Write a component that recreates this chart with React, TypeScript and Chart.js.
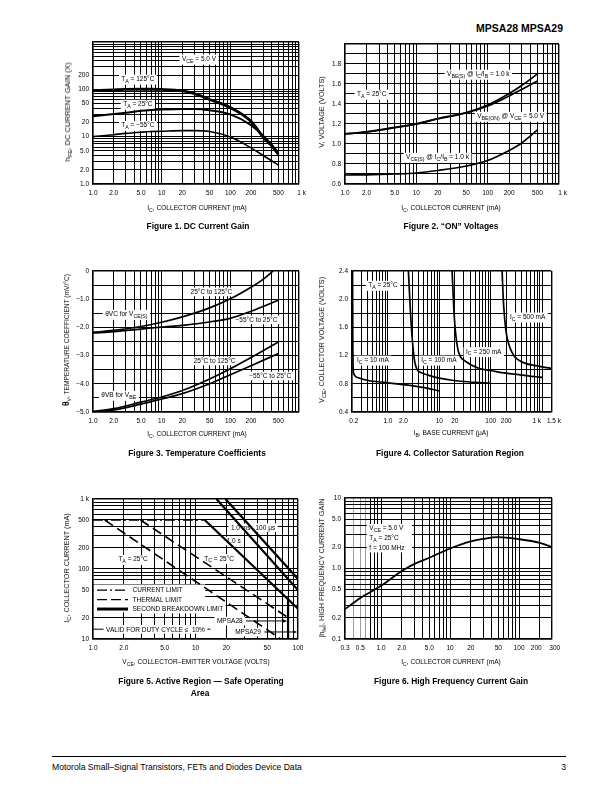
import React, { useEffect, useRef } from 'react';
import { Chart, registerables } from 'chart.js';

Chart.register(...registerables);

const FONT = '"Liberation Sans", Arial, Helvetica, sans-serif';
Chart.defaults.font.family = FONT;

// ---------------- Figure 1: DC Current Gain ----------------
const fig1Current = [1, 2, 3, 5, 7, 10, 20, 30, 50, 100, 200, 300, 400, 500];
const fig1Gain125 = [94, 97, 99, 100, 100, 99, 92, 81, 61, 41, 21, 9.8, 6.4, 4.2];
const fig1Gain25 = [27, 30, 32, 35, 36.5, 37.5, 38.5, 38.5, 36, 29.5, 17.5, 10.5, 6.8, 4.6];
const fig1GainM55 = [10, 11, 11.7, 12.4, 12.8, 13, 13.4, 13.4, 12.8, 9.8, 5.8, 4.0, 3.1, 2.5];
const fig1XTicks = [1, 2, 5, 10, 20, 50, 100, 200, 500, 1000];
const fig1XLabels = ['1.0', '2.0', '5.0', '10', '20', '50', '100', '200', '500', '   1 k'];
const fig1YTicks = [1, 2, 5, 10, 20, 50, 100, 200];
const fig1YLabels = ['1.0', '2.0', '5.0', '10', '20', '50', '100', '200'];

// ---------------- Figure 2: "ON" Voltages ----------------
const fig2Current = [1, 2, 5, 10, 20, 50, 100, 200, 300, 500];
const fig2VbeSat = [1.1, 1.12, 1.165, 1.2, 1.255, 1.315, 1.39, 1.505, 1.585, 1.7];
const fig2VbeOn = [1.1, 1.12, 1.163, 1.2, 1.25, 1.31, 1.38, 1.48, 1.545, 1.63];
const fig2VceSat = [0.69, 0.692, 0.7, 0.71, 0.735, 0.78, 0.835, 0.935, 1.01, 1.14];
const fig2XLabels = ['1.0', '2.0', '5.0', '10', '20', '50', '100', '200', '500', '    1 k'];
const fig2YTicks = [0.6, 0.8, 1.0, 1.2, 1.4, 1.6, 1.8];
const fig2YLabels = ['0.6', '0.8', '1.0', '1.2', '1.4', '1.6', '1.8'];

// ---------------- Figure 3: Temperature Coefficients ----------------
const fig3CurrentVc125 = [1, 2, 5, 10, 20, 50, 100, 200, 300, 420];
const fig3Vc125 = [-2.18, -2.11, -1.97, -1.82, -1.63, -1.31, -0.99, -0.58, -0.3, 0];
const fig3Current = [1, 2, 5, 10, 20, 50, 100, 200, 500];
const fig3Vc55 = [-2.2, -2.15, -2.06, -1.99, -1.93, -1.81, -1.68, -1.43, -1.04];
const fig3Vb125 = [-4.98, -4.88, -4.65, -4.47, -4.24, -3.83, -3.47, -3.07, -2.52];
const fig3Vb55 = [-5.0, -4.93, -4.72, -4.54, -4.35, -4.0, -3.68, -3.36, -2.93];
const fig3XTicks = [1, 2, 5, 10, 20, 50, 100, 200, 500];
const fig3XLabels = ['1.0', '2.0', '5.0', '10', '20', '50', '100', '200', '500'];
const fig3YTicks = [-5, -4, -3, -2, -1, 0];
const fig3YLabels = ['\u22125.0', '\u22124.0', '\u22123.0', '\u22122.0', '\u22121.0', '0'];

// ---------------- Figure 4: Collector Saturation Region ----------------
const fig4Ib10 = [0.205, 0.207, 0.21, 0.215, 0.265, 0.39, 0.94, 2.5, 5, 10];
const fig4Vce10 = [2.4, 1.5, 1.05, 0.95, 0.886, 0.85, 0.816, 0.78, 0.745, 0.7];
const fig4Ib100 = [2.5, 2.75, 3.0, 3.3, 3.7, 4.5, 6.25, 10, 17.7, 40, 100];
const fig4Vce100 = [2.4, 1.8, 1.4, 1.12, 1.0, 0.955, 0.92, 0.88, 0.85, 0.825, 0.81];
const fig4Ib250 = [17.7, 19, 20.5, 22.5, 25, 32, 58, 105, 200, 350, 740, 1000];
const fig4Vce250 = [2.4, 1.9, 1.55, 1.32, 1.2, 1.12, 1.02, 0.985, 0.95, 0.93, 0.9, 0.89];
const fig4Ib500 = [166, 175, 185, 200, 224, 260, 302, 380, 472, 700, 1000, 1500];
const fig4Vce500 = [2.4, 2.0, 1.75, 1.52, 1.36, 1.24, 1.17, 1.12, 1.09, 1.06, 1.04, 1.02];
const fig4XTicks = [0.2, 1, 2, 10, 20, 100, 200, 1000, 1500];
const fig4XLabels = ['  0.2', '1.0', '2.0', '10', '20', '100', '200', '1 k      ', '   1.5 k'];
const fig4YTicks = [0.4, 0.8, 1.2, 1.6, 2.0, 2.4];
const fig4YLabels = ['0.4', '0.8', '1.2', '1.6', '2.0', '2.4'];

// ---------------- Figure 5: Safe Operating Area ----------------
const fig5CurrentLimitV = [1.0, 12.3];
const fig5CurrentLimitI = [500, 500];
const fig5ThermalTaV = [1.3, 68];
const fig5ThermalTaI = [500, 10];
const fig5ThermalTcV = [2.9, 83];
const fig5ThermalTcI = [500, 19.5];
const fig5Sb1sV = [12.3, 100];
const fig5Sb1sI = [500, 27];
const fig5Sb1msV = [16, 100];
const fig5Sb1msI = [1000, 50];
const fig5Sb100usV = [19.6, 100];
const fig5Sb100usI = [1000, 72];
const fig5Mpsa28V = [80, 80];
const fig5Mpsa28I = [10, 37];
const fig5XTicks = [1, 2, 5, 10, 20, 50, 100];
const fig5XLabels = ['1.0', '2.0', '5.0', '10', '20', '50', '100'];
const fig5YTicks = [10, 20, 50, 100, 200, 500, 1000];
const fig5YLabels = ['10', '20', '50', '100', '200', '500', '1 k'];
const fig5LegendLabels = ['CURRENT LIMIT', 'THERMAL LIMIT', 'SECOND BREAKDOWN LIMIT'];

// ---------------- Figure 6: High Frequency Current Gain ----------------
const fig6Current = [0.3, 0.5, 1, 2, 3, 5, 10, 20, 30, 50, 100, 200, 300];
const fig6Gain = [0.265, 0.38, 0.57, 0.92, 1.15, 1.42, 1.92, 2.42, 2.62, 2.78, 2.6, 2.3, 2.0];
const fig6XTicks = [0.3, 0.5, 1, 2, 5, 10, 20, 50, 100, 200, 300];
const fig6XLabels = ['0.3', '0.5', '1.0', '2.0', '5.0', '10', '20', '50', '100', '200    ', '   300'];
const fig6YTicks = [0.1, 0.2, 0.5, 1, 2, 5, 10];
const fig6YLabels = ['0.1', '0.2', '0.5', '1.0', '2.0', '5.0', '10'];

// ---------------- helpers ----------------
const LM = 34, RM = 14, TM = 6, BM = 16;

type AxisSpec = { type: 'logarithmic' | 'linear'; min: number; max: number; grid: number[]; ticks: number[]; labels: string[] };
type SeriesSpec = { xs: number[]; ys: number[]; width: number; dash?: number[]; straight?: boolean };
type NoteSpec = { x: number; y: number; text: string; align?: 'left' | 'center'; boxW?: number; arrowTo?: number; sides?: [number, number] };
type FigSpec = {
  rect: [number, number, number, number];
  x: AxisSpec; y: AxisSpec; series: SeriesSpec[]; notes: NoteSpec[];
  lightX?: number[];
  extra?: (chart: any, ctx: CanvasRenderingContext2D) => void;
};

function near(a: number, b: number) {
  return Math.abs(a - b) <= 1e-6 * Math.max(1, Math.abs(a), Math.abs(b));
}

function logGrid(min: number, max: number): number[] {
  const out: number[] = [];
  const e0 = Math.floor(Math.log10(min) + 1e-9), e1 = Math.ceil(Math.log10(max) - 1e-9);
  for (let e = e0; e <= e1; e++) {
    for (let m = 1; m < 10; m++) {
      const v = parseFloat((m * Math.pow(10, e)).toPrecision(6));
      if (v >= min * (1 - 1e-9) && v <= max * (1 + 1e-9)) out.push(v);
    }
  }
  if (!near(out[out.length - 1], max)) out.push(max);
  if (!near(out[0], min)) out.unshift(min);
  return out;
}

function linGrid(min: number, max: number, step: number): number[] {
  const out: number[] = [];
  const n = Math.round((max - min) / step);
  for (let i = 0; i <= n; i++) out.push(parseFloat((min + i * step).toFixed(6)));
  return out;
}

function labelFor(ax: AxisSpec, v: number) {
  const i = ax.ticks.findIndex((t) => near(t, v));
  return i >= 0 ? ax.labels[i] : '';
}

function parseRuns(text: string) {
  const runs: { t: string; sub: boolean }[] = [];
  const re = /_\{([^}]*)\}/g;
  let last = 0;
  let m: RegExpExecArray | null;
  while ((m = re.exec(text))) {
    if (m.index > last) runs.push({ t: text.slice(last, m.index), sub: false });
    runs.push({ t: m[1], sub: true });
    last = re.lastIndex;
  }
  if (last < text.length) runs.push({ t: text.slice(last), sub: false });
  return runs;
}

const NOTE_SIZE = 6.5;

function measureRuns(ctx: CanvasRenderingContext2D, runs: { t: string; sub: boolean }[]) {
  let w = 0;
  for (const r of runs) {
    ctx.font = `${r.sub ? NOTE_SIZE * 0.8 : NOTE_SIZE}px ${FONT}`;
    w += ctx.measureText(r.t).width;
  }
  return w;
}

function drawNote(ctx: CanvasRenderingContext2D, chart: any, n: NoteSpec) {
  const xs = chart.scales.x, ys = chart.scales.y;
  const px = xs.getPixelForValue(n.x), py = ys.getPixelForValue(n.y);
  const runs = parseRuns(n.text);
  const w = measureRuns(ctx, runs);
  const left = n.align === 'left' ? px : px - w / 2;
  const hasSub = runs.some((r) => r.sub);
  const bl = left - 2.5;
  const bw = n.boxW ?? w + 5;
  ctx.fillStyle = '#fff';
  ctx.fillRect(bl, py - 4.2, bw, hasSub ? 10 : 8.6);
  ctx.fillStyle = '#000';
  ctx.textBaseline = 'alphabetic';
  ctx.textAlign = 'left';
  let cx = left;
  const base = py + 2.3;
  for (const r of runs) {
    ctx.font = `${r.sub ? NOTE_SIZE * 0.8 : NOTE_SIZE}px ${FONT}`;
    ctx.fillText(r.t, cx, r.sub ? base + 1.8 : base);
    cx += ctx.measureText(r.t).width;
  }
  ctx.strokeStyle = '#000';
  ctx.lineWidth = 1;
  ctx.setLineDash([]);
  if (n.arrowTo !== undefined) {
    const tx = xs.getPixelForValue(n.arrowTo) - 1;
    ctx.beginPath();
    ctx.moveTo(bl + bw + 1, py);
    ctx.lineTo(tx - 3, py);
    ctx.stroke();
    ctx.beginPath();
    ctx.moveTo(tx, py);
    ctx.lineTo(tx - 4, py - 1.8);
    ctx.lineTo(tx - 4, py + 1.8);
    ctx.closePath();
    ctx.fill();
  }
  if (n.sides) {
    const lx = xs.getPixelForValue(n.sides[0]), rx = xs.getPixelForValue(n.sides[1]);
    ctx.beginPath();
    ctx.moveTo(lx, py);
    ctx.lineTo(bl, py);
    ctx.moveTo(bl + bw, py);
    ctx.lineTo(rx, py);
    ctx.stroke();
  }
}

function axisOptions(ax: AxisSpec, isX: boolean, spec: FigSpec) {
  const last = ax.grid.length - 1;
  return {
    type: ax.type,
    min: ax.min,
    max: ax.max,
    afterBuildTicks: (s: any) => {
      s.ticks = ax.grid.map((v) => ({ value: v }));
    },
    afterFit: (s: any) => {
      if (isX) s.height = BM;
      else s.width = LM;
    },
    ticks: {
      autoSkip: false,
      maxRotation: 0,
      minRotation: 0,
      padding: isX ? 5 : 4,
      color: '#000',
      font: { family: FONT, size: 6.5 },
      callback: (v: any) => labelFor(ax, Number(v)),
    },
    grid: {
      drawTicks: false,
      color: (c: any) =>
        isX && spec.lightX && c.tick && spec.lightX.some((v) => near(v, c.tick.value)) ? '#9c9c9c' : '#000',
      lineWidth: (c: any) => (c.index === 0 || c.index === last ? 1.4 : 1),
    },
    border: { display: true, color: '#000', width: 1.4 },
  };
}

function buildConfig(spec: FigSpec): any {
  return {
    type: 'scatter',
    data: {
      datasets: spec.series.map((s) => ({
        data: s.xs.map((x, i) => ({ x, y: s.ys[i] })),
        showLine: true,
        borderColor: '#000',
        backgroundColor: '#000',
        borderWidth: s.width,
        borderDash: s.dash ?? [],
        borderCapStyle: 'butt',
        pointRadius: 0,
        pointHoverRadius: 0,
        fill: false,
        tension: s.straight ? 0 : 0.4,
        cubicInterpolationMode: s.straight ? 'default' : 'monotone',
      })),
    },
    options: {
      animation: false,
      responsive: false,
      maintainAspectRatio: false,
      events: [],
      layout: { padding: { left: 0, right: RM, top: TM, bottom: 0 } },
      plugins: { legend: { display: false }, tooltip: { enabled: false }, title: { display: false } },
      scales: { x: axisOptions(spec.x, true, spec), y: axisOptions(spec.y, false, spec) },
    },
    plugins: [
      {
        id: 'notes',
        beforeDatasetsDraw(chart: any) {
          const ctx = chart.ctx as CanvasRenderingContext2D;
          ctx.save();
          if (spec.extra) spec.extra(chart, ctx);
          for (const n of spec.notes) drawNote(ctx, chart, n);
          ctx.restore();
        },
      },
    ],
  };
}

function ChartBox({ spec }: { spec: FigSpec }) {
  const ref = useRef<HTMLCanvasElement>(null);
  useEffect(() => {
    const chart = new Chart(ref.current as HTMLCanvasElement, buildConfig(spec));
    return () => chart.destroy();
  }, []);
  const [l, t, r, b] = spec.rect;
  const w = r - l + LM + RM, h = b - t + TM + BM;
  return (
    <canvas
      ref={ref}
      width={w}
      height={h}
      style={{ position: 'absolute', left: l - LM, top: t - TM, width: w, height: h }}
    />
  );
}

const logAxis = (min: number, max: number, ticks: number[], labels: string[]): AxisSpec => ({
  type: 'logarithmic', min, max, grid: logGrid(min, max), ticks, labels,
});
const linAxis = (min: number, max: number, step: number, ticks: number[], labels: string[]): AxisSpec => ({
  type: 'linear', min, max, grid: linGrid(min, max, step), ticks, labels,
});

const fig1: FigSpec = {
  rect: [93, 40, 299, 184],
  x: logAxis(1, 1000, fig1XTicks, fig1XLabels),
  y: logAxis(1, 1000, fig1YTicks, fig1YLabels),
  series: [
    { xs: fig1Current, ys: fig1Gain125, width: 2.8 },
    { xs: fig1Current, ys: fig1Gain25, width: 2.0 },
    { xs: fig1Current, ys: fig1GainM55, width: 1.6 },
  ],
  notes: [
    { x: 35, y: 440, text: 'V_{CE} = 5.0 V' },
    { x: 4.5, y: 166, text: 'T_{A} = 125\u00B0C' },
    { x: 4.5, y: 49, text: 'T_{A} = 25\u00B0C' },
    { x: 4.5, y: 17.5, text: 'T_{A} = \u221255\u00B0C' },
  ],
};

const fig2: FigSpec = {
  rect: [345, 41.5, 559, 184],
  x: logAxis(1, 1000, fig1XTicks, fig2XLabels),
  y: linAxis(0.6, 2.0, 0.1, fig2YTicks, fig2YLabels),
  series: [
    { xs: fig2Current, ys: fig2VbeSat, width: 1.7 },
    { xs: fig2Current, ys: fig2VbeOn, width: 1.7 },
    { xs: fig2Current, ys: fig2VceSat, width: 1.7 },
  ],
  notes: [
    { x: 74, y: 1.7, text: 'V_{BE(S)} @ I_{C}/I_{B} = 1.0 k' },
    { x: 2.37, y: 1.5, text: 'T_{A} = 25\u00B0C' },
    { x: 210, y: 1.28, text: 'V_{BE(ON)} @ V_{CE} = 5.0 V' },
    { x: 19.8, y: 0.87, text: 'V_{CE(S)} @ I_{C}/I_{B} = 1.0 k' },
  ],
};

const fig3: FigSpec = {
  rect: [93, 268.5, 299, 412],
  x: logAxis(1, 1000, fig3XTicks, fig3XLabels),
  y: linAxis(-5, 0, 0.5, fig3YTicks, fig3YLabels),
  series: [
    { xs: fig3CurrentVc125, ys: fig3Vc125, width: 1.7 },
    { xs: fig3Current, ys: fig3Vc55, width: 1.7 },
    { xs: fig3Current, ys: fig3Vb125, width: 1.7 },
    { xs: fig3Current, ys: fig3Vb55, width: 1.7 },
  ],
  notes: [
    { x: 53, y: -0.74, text: '25\u00B0C to 125\u00B0C' },
    { x: 3.06, y: -1.53, text: '\u03B8VC for V_{CE(S)}' },
    { x: 240, y: -1.73, text: '\u221255\u00B0C to 25\u00B0C' },
    { x: 59, y: -3.19, text: '25\u00B0C to 125\u00B0C' },
    { x: 380, y: -3.72, text: '\u221255\u00B0C to 25\u00B0C' },
    { x: 2.37, y: -4.4, text: '\u03B8VB for V_{BE}' },
  ],
};

const fig4: FigSpec = {
  rect: [352, 268.5, 552, 412],
  x: logAxis(0.2, 1500, fig4XTicks, fig4XLabels),
  y: linAxis(0.4, 2.4, 0.2, fig4YTicks, fig4YLabels),
  series: [
    { xs: fig4Ib10, ys: fig4Vce10, width: 1.7 },
    { xs: fig4Ib100, ys: fig4Vce100, width: 1.7 },
    { xs: fig4Ib250, ys: fig4Vce250, width: 1.7 },
    { xs: fig4Ib500, ys: fig4Vce500, width: 1.7 },
  ],
  notes: [
    { x: 0.8, y: 2.2, text: 'T_{A} = 25\u00B0C' },
    { x: 522, y: 1.75, text: 'I_{C} = 500 mA' },
    { x: 73, y: 1.26, text: 'I_{C} = 250 mA' },
    { x: 0.51, y: 1.14, text: 'I_{C} = 10 mA' },
    { x: 9.8, y: 1.14, text: 'I_{C} = 100 mA' },
  ],
};

const fig5: FigSpec = {
  rect: [93, 497, 298, 639],
  x: logAxis(1, 100, fig5XTicks, fig5XLabels),
  y: logAxis(10, 1000, fig5YTicks, fig5YLabels),
  series: [
    { xs: fig5CurrentLimitV, ys: fig5CurrentLimitI, width: 1.3, dash: [10, 3, 2, 3], straight: true },
    { xs: fig5ThermalTaV, ys: fig5ThermalTaI, width: 1.6, dash: [10, 5], straight: true },
    { xs: fig5ThermalTcV, ys: fig5ThermalTcI, width: 1.6, dash: [10, 5], straight: true },
    { xs: fig5Sb1sV, ys: fig5Sb1sI, width: 2.2, straight: true },
    { xs: fig5Sb1msV, ys: fig5Sb1msI, width: 2.2, straight: true },
    { xs: fig5Sb100usV, ys: fig5Sb100usI, width: 2.2, straight: true },
    { xs: fig5Mpsa28V, ys: fig5Mpsa28I, width: 2.2, straight: true },
  ],
  notes: [
    { x: 2.46, y: 138, text: 'T_{A} = 25\u00B0C' },
    { x: 17, y: 142, text: 'T_{C} = 25\u00B0C' },
    { x: 27.6, y: 386, text: '1.0 ms' },
    { x: 48, y: 390, text: '100 \u03BCs' },
    { x: 23.6, y: 250, text: '1.0 s' },
    { x: 21.6, y: 18.1, text: 'MPSA28', arrowTo: 80 },
    { x: 32.5, y: 12.6, text: 'MPSA29', arrowTo: 100 },
    { x: 4.07, y: 13.8, text: 'VALID FOR DUTY CYCLE \u2264  10%', sides: [1, 14] },
  ],
  extra: (chart, ctx) => {
    const a = chart.chartArea, xs = chart.scales.x, ys = chart.scales.y;
    const top = ys.getPixelForValue(60), bottom = ys.getPixelForValue(24);
    const right = xs.getPixelForValue(12.4);
    ctx.fillStyle = '#fff';
    ctx.fillRect(a.left + 1, top, right - a.left - 1, bottom - top);
    const styles = [
      { w: 1.2, dash: [10, 3, 2, 3] },
      { w: 1.2, dash: [10, 4] },
      { w: 3, dash: [] as number[] },
    ];
    const y0 = ys.getPixelForValue(50);
    fig5LegendLabels.forEach((label, i) => {
      const y = y0 + i * 9.5;
      ctx.strokeStyle = '#000';
      ctx.lineWidth = styles[i].w;
      ctx.setLineDash(styles[i].dash);
      ctx.beginPath();
      ctx.moveTo(a.left + 4, y);
      ctx.lineTo(a.left + 35, y);
      ctx.stroke();
      ctx.setLineDash([]);
      ctx.font = `6.5px ${FONT}`;
      const w = ctx.measureText(label).width;
      ctx.fillStyle = '#fff';
      ctx.fillRect(a.left + 37, y - 4.2, w + 5, 8.6);
      ctx.fillStyle = '#000';
      ctx.textBaseline = 'alphabetic';
      ctx.textAlign = 'left';
      ctx.fillText(label, a.left + 39.5, y + 2.3);
    });
  },
};

const fig6: FigSpec = {
  rect: [345, 496, 552, 639],
  x: logAxis(0.3, 300, fig6XTicks, fig6XLabels),
  y: logAxis(0.1, 10, fig6YTicks, fig6YLabels),
  lightX: [0.4, 0.5, 0.6],
  series: [{ xs: fig6Current, ys: fig6Gain, width: 1.8 }],
  notes: [
    { x: 0.675, y: 3.72, text: 'V_{CE} = 5.0 V', align: 'left', boxW: 45 },
    { x: 0.675, y: 2.7, text: 'T_{A} = 25\u00B0C', align: 'left', boxW: 45 },
    { x: 0.675, y: 1.95, text: 'f = 100 MHz', align: 'left', boxW: 45 },
  ],
};

// ---------------- HTML text ----------------
const subStyle: React.CSSProperties = { fontSize: '0.78em', verticalAlign: '-0.3em', lineHeight: 0 };
const S = ({ children }: { children: React.ReactNode }) => <span style={subStyle}>{children}</span>;

function HText({ x, y, size, bold, align = 'center', children }: { x: number; y: number; size: number; bold?: boolean; align?: 'center' | 'left' | 'right'; children: React.ReactNode }) {
  const W = 400;
  const left = align === 'center' ? x - W / 2 : align === 'left' ? x : x - W;
  return (
    <div
      style={{
        position: 'absolute', left, top: y - size * 0.6, width: W, height: size * 1.2,
        lineHeight: `${size * 1.2}px`, fontSize: size, fontWeight: bold ? 'bold' : 'normal',
        textAlign: align, whiteSpace: 'nowrap',
      }}
    >
      {children}
    </div>
  );
}

function VText({ x, y, size, stretch = 1, children }: { x: number; y: number; size: number; stretch?: number; children: React.ReactNode }) {
  const W = 300;
  return (
    <div
      style={{
        position: 'absolute', left: x - W / 2, top: y - size * 0.6, width: W, height: size * 1.2,
        lineHeight: `${size * 1.2}px`, fontSize: size, textAlign: 'center', whiteSpace: 'nowrap',
        transform: `rotate(-90deg) scaleX(${stretch})`,
      }}
    >
      {children}
    </div>
  );
}

export default function App() {
  return (
    <div
      style={{
        position: 'absolute', left: 0, top: 0, width: 612, height: 792, background: '#fff',
        fontFamily: FONT, color: '#000', overflow: 'hidden',
      }}
    >
      <HText x={563} y={28} size={10.5} bold align="right">MPSA28 MPSA29</HText>

      <ChartBox spec={fig1} />
      <ChartBox spec={fig2} />
      <ChartBox spec={fig3} />
      <ChartBox spec={fig4} />
      <ChartBox spec={fig5} />
      <ChartBox spec={fig6} />

      {/* axis titles */}
      <VText x={68} y={112} size={6.6} stretch={1.15}>h<S>FE</S>, DC CURRENT GAIN (X)</VText>
      <HText x={197} y={208} size={6.6}>I<S>C</S>, COLLECTOR CURRENT (mA)</HText>
      <VText x={322} y={112} size={6.6} stretch={1.1}>V, VOLTAGE (VOLTS)</VText>
      <HText x={451} y={208} size={6.6}>I<S>C</S>, COLLECTOR CURRENT (mA)</HText>

      <VText x={67} y={340} size={6.6}>
        <span style={{ fontWeight: 'bold', fontSize: '1.25em' }}>{'\u03B8'}</span><S>V</S>, TEMPERATURE COEFFICIENT (mV/{'\u00B0'}C)
      </VText>
      <HText x={197} y={434} size={6.6}>I<S>C</S>, COLLECTOR CURRENT (mA)</HText>
      <VText x={322} y={340} size={6.6} stretch={1.1}>V<S>CE</S>, COLLECTOR VOLTAGE (VOLTS)</VText>
      <HText x={451} y={433} size={6.6}>I<S>B</S>, BASE CURRENT ({'\u03BC'}A)</HText>

      <VText x={67} y={568} size={6.6} stretch={1.1}>I<S>C</S>, COLLECTOR CURRENT (mA)</VText>
      <HText x={196} y={662} size={6.6}>V<S>CE</S>, COLLECTOR{'\u2013'}EMITTER VOLTAGE (VOLTS)</HText>
      <VText x={322} y={568} size={6.6} stretch={1.1}>|h<S>fe</S>|, HIGH FREQUENCY CURRENT GAIN</VText>
      <HText x={451} y={662} size={6.6}>I<S>C</S>, COLLECTOR CURRENT (mA)</HText>

      {/* captions */}
      <HText x={198} y={226} size={8.4} bold>Figure 1. DC Current Gain</HText>
      <HText x={451} y={226} size={8.4} bold>Figure 2. {'\u201C'}ON{'\u201D'} Voltages</HText>
      <HText x={197} y={453} size={8.4} bold>Figure 3. Temperature Coefficients</HText>
      <HText x={450} y={453} size={8.4} bold>Figure 4. Collector Saturation Region</HText>
      <HText x={201} y={681} size={8.4} bold>Figure 5. Active Region {'\u2014'} Safe Operating</HText>
      <HText x={200} y={693} size={8.4} bold>Area</HText>
      <HText x={451} y={681} size={8.4} bold>Figure 6. High Frequency Current Gain</HText>

      {/* footer */}
      <div style={{ position: 'absolute', left: 52, top: 755.5, width: 514, height: 1.6, background: '#000' }} />
      <HText x={52} y={767} size={8.6} align="left">Motorola Small{'\u2013'}Signal Transistors, FETs and Diodes Device Data</HText>
      <HText x={566} y={767} size={8.6} align="right">3</HText>
    </div>
  );
}
